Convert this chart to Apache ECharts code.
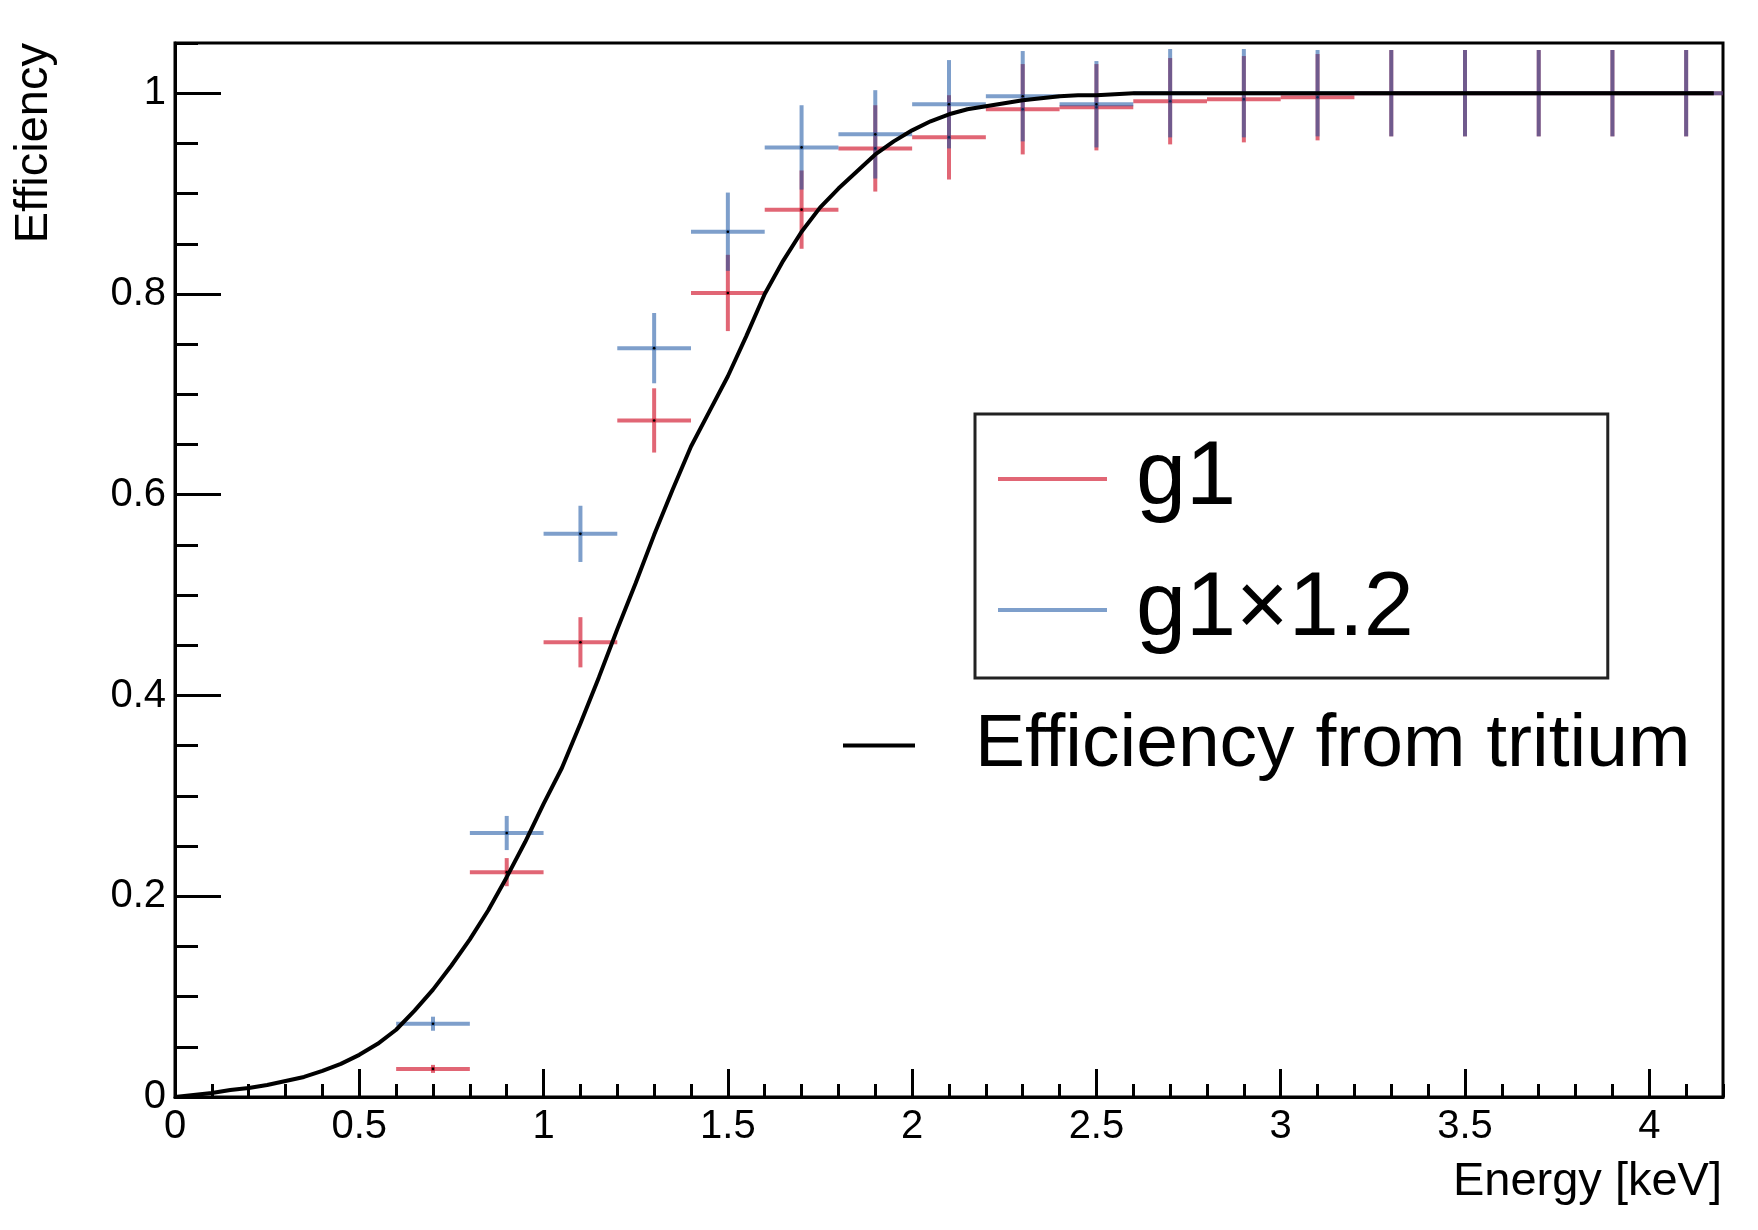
<!DOCTYPE html>
<html>
<head>
<meta charset="utf-8">
<script src="https://cdn.jsdelivr.net/npm/echarts@6/dist/echarts.min.js"></script>
<style>
html,body{margin:0;padding:0;background:#fff;}
#chart{width:1758px;height:1230px;}
</style>
</head>
<body>
<div id="chart"></div>
<script>
// ---------------- data ----------------
const binCenters = [0.7, 0.9, 1.1, 1.3, 1.5, 1.7, 1.9, 2.1, 2.3, 2.5, 2.7, 2.9, 3.1, 3.3, 3.5, 3.7, 3.9, 4.1];
const binHalfWidth = 0.1;
const g1Eff = [0.028, 0.224, 0.453, 0.674, 0.801, 0.884, 0.945, 0.956, 0.984, 0.986, 0.992, 0.994, 0.996, 1.0, 1.0, 1.0, 1.0, 1.0];
const g1Err = [0.004, 0.014, 0.025, 0.032, 0.038, 0.039, 0.043, 0.042, 0.045, 0.043, 0.043, 0.043, 0.043, 0.043, 0.043, 0.043, 0.043, 0.043];
const g12Eff = [0.073, 0.263, 0.561, 0.746, 0.862, 0.946, 0.959, 0.989, 0.997, 0.989, 1.0, 1.0, 1.0, 1.0, 1.0, 1.0, 1.0, 1.0];
const g12Err = [0.007, 0.017, 0.028, 0.035, 0.039, 0.042, 0.044, 0.044, 0.045, 0.043, 0.044, 0.044, 0.043, 0.043, 0.043, 0.043, 0.043, 0.043];

const curveE = [0, 0.05, 0.1, 0.15, 0.2, 0.25, 0.3, 0.35, 0.4, 0.45, 0.5, 0.55, 0.6, 0.65, 0.7, 0.75, 0.8, 0.85, 0.9, 0.95,
  1.0, 1.05, 1.1, 1.15, 1.2, 1.25, 1.3, 1.35, 1.4, 1.45, 1.5, 1.55, 1.6, 1.65, 1.7, 1.75, 1.8, 1.85, 1.9, 1.95,
  2.0, 2.05, 2.1, 2.15, 2.2, 2.25, 2.3, 2.35, 2.4, 2.45, 2.5, 2.55, 2.6, 3.0, 3.5, 4.0, 4.175];
const curveEff = [0, 0.002, 0.004, 0.007, 0.009, 0.012, 0.016, 0.020, 0.026, 0.033, 0.042, 0.053, 0.067, 0.086, 0.107, 0.131, 0.157, 0.186, 0.219, 0.254,
  0.292, 0.328, 0.372, 0.418, 0.466, 0.512, 0.560, 0.605, 0.648, 0.683, 0.718, 0.758, 0.800, 0.833, 0.862, 0.886, 0.905, 0.922, 0.939, 0.952,
  0.963, 0.972, 0.979, 0.984, 0.987, 0.990, 0.993, 0.995, 0.997, 0.998, 0.998, 0.999, 1.0, 1.0, 1.0, 1.0, 1.0];

const seriesNames = ['g1', 'g1\u00d71.2', 'Efficiency from tritium'];
const xTitle = 'Energy [keV]';
const yTitle = 'Efficiency';

// ---------------- style ----------------
const FONT = "'Liberation Sans', Arial, Helvetica, sans-serif";
const RED = 'rgba(205, 0, 25, 0.6)';
const BLUE = 'rgba(20, 80, 160, 0.55)';

function errData(eff, err) {
  return binCenters.map((x, i) => [x, eff[i], err[i], binHalfWidth]);
}

function makeRender(color) {
  return function (params, api) {
    const x = api.value(0), y = api.value(1), e = api.value(2), hw = api.value(3);
    const c = api.coord([x, y]);
    const l = api.coord([x - hw, y]);
    const r = api.coord([x + hw, y]);
    const t = api.coord([x, y + e]);
    const b = api.coord([x, y - e]);
    return {
      type: 'group',
      children: [
        { type: 'line', shape: { x1: l[0], y1: c[1], x2: r[0], y2: c[1] }, style: { stroke: color, lineWidth: 4 } },
        { type: 'line', shape: { x1: c[0], y1: t[1], x2: c[0], y2: b[1] }, style: { stroke: color, lineWidth: 4 } },
        { type: 'circle', shape: { cx: c[0], cy: c[1], r: 1.3 }, style: { fill: '#000' } }
      ]
    };
  };
}

const chart = echarts.init(document.getElementById('chart'), null, { renderer: 'canvas' });

const tickStyle = { color: '#000', width: 3 };

const option = {
  backgroundColor: '#fff',
  animation: false,
  grid: { left: 175, right: 35, top: 43, bottom: 133, show: true, borderColor: '#000', borderWidth: 3, backgroundColor: 'transparent' },
  xAxis: [
    {
      type: 'value', min: 0, max: 4.2, interval: 0.5,
      axisLine: { show: true, onZero: false, lineStyle: { color: '#000', width: 3 } },
      axisTick: { show: true, inside: true, length: 28, lineStyle: tickStyle },
      axisLabel: { show: true, fontSize: 40, fontFamily: FONT, color: '#000', margin: 10, showMaxLabel: false },
      splitLine: { show: false }
    },
    {
      type: 'value', min: 0, max: 4.2, interval: 0.1, position: 'bottom',
      axisLine: { show: false, onZero: false },
      axisTick: { show: true, inside: true, length: 13, lineStyle: tickStyle },
      axisLabel: { show: false },
      splitLine: { show: false }
    }
  ],
  yAxis: [
    {
      type: 'value', min: 0, max: 1.05, interval: 0.2,
      axisLine: { show: true, onZero: false, lineStyle: { color: '#000', width: 3 } },
      axisTick: { show: true, inside: true, length: 46, lineStyle: tickStyle },
      axisLabel: { show: true, fontSize: 40, fontFamily: FONT, color: '#000', margin: 9, showMaxLabel: false },
      splitLine: { show: false }
    },
    {
      type: 'value', min: 0, max: 1.05, interval: 0.05, position: 'left',
      axisLine: { show: false, onZero: false },
      axisTick: { show: true, inside: true, length: 23, lineStyle: tickStyle },
      axisLabel: { show: false },
      splitLine: { show: false }
    }
  ],
  legend: [
    {
      orient: 'vertical', left: 975, top: 414,
      padding: [20, 194, 23, 23],
      itemWidth: 109, itemHeight: 4, itemGap: 41,
      borderColor: '#222', borderWidth: 3,
      selectedMode: false,
      data: [{ name: seriesNames[0], icon: 'rect' }, { name: seriesNames[1], icon: 'rect' }],
      textStyle: { fontSize: 90, fontFamily: FONT, color: '#000', padding: [0, 0, 0, 24] }
    },
    {
      orient: 'vertical', left: 843, top: 708, padding: 0,
      itemWidth: 72, itemHeight: 4,
      selectedMode: false,
      data: [{ name: seriesNames[2], icon: 'rect' }],
      textStyle: { fontSize: 75, fontFamily: FONT, color: '#000', padding: [0, 0, 0, 55] }
    }
  ],
  graphic: [
    {
      type: 'text', x: 34, y: 43, rotation: Math.PI / 2,
      style: { text: yTitle, fontSize: 47, fontFamily: FONT, fill: '#000', align: 'right', verticalAlign: 'middle' }
    },
    {
      type: 'text', x: 1722, y: 1182,
      style: { text: xTitle, fontSize: 47, fontFamily: FONT, fill: '#000', align: 'right', verticalAlign: 'middle' }
    }
  ],
  series: [
    {
      name: seriesNames[0], type: 'custom', xAxisIndex: 0, yAxisIndex: 0,
      renderItem: makeRender(RED), data: errData(g1Eff, g1Err),
      itemStyle: { color: RED }, color: RED, z: 2, clip: true,
      encode: { x: 0, y: 1 }
    },
    {
      name: seriesNames[1], type: 'custom', xAxisIndex: 0, yAxisIndex: 0,
      renderItem: makeRender(BLUE), data: errData(g12Eff, g12Err),
      itemStyle: { color: BLUE }, color: BLUE, z: 3, clip: true,
      encode: { x: 0, y: 1 }
    },
    {
      name: seriesNames[2], type: 'line', xAxisIndex: 0, yAxisIndex: 0,
      data: curveE.map((x, i) => [x, curveEff[i]]),
      showSymbol: false, symbol: 'none', smooth: false,
      color: '#000', itemStyle: { color: '#000' },
      lineStyle: { color: '#000', width: 4 }, z: 5
    }
  ]
};

chart.setOption(option);
</script>
</body>
</html>
